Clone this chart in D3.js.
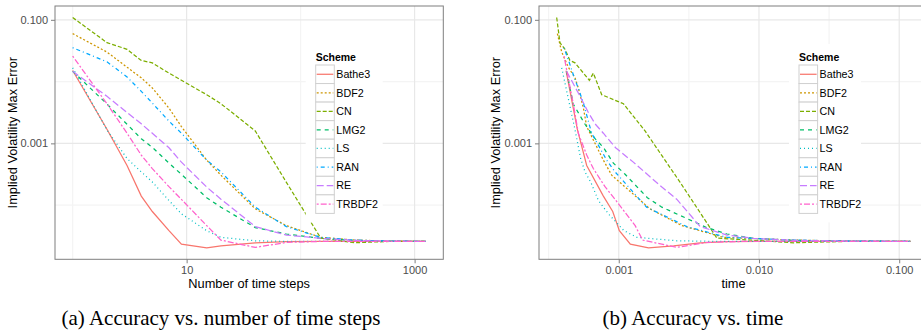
<!DOCTYPE html>
<html><head><meta charset="utf-8">
<script src="https://cdn.jsdelivr.net/npm/d3@7"></script>
<style>body{margin:0;background:#fff} svg{display:block}</style>
</head><body>
<svg id="c" width="921" height="334"></svg>
<script>
// ---------------- data ----------------
const schemes = ["Bathe3","BDF2","CN","LMG2","LS","RAN","RE","TRBDF2"];
const colors  = ["#F8766D","#CD9600","#7CAE00","#00BE67","#00BFC4","#00A9FF","#C77CFF","#FF61CC"];
const dashes  = ["", "2,2", "4,2", "4,4", "1,3", "1,3,4,3", "7,3", "2,2,6,2"];

const steps = [1,2,3,4,5,7,9,15,20,40,75,150,300,600,1250];

const errBathe3 = [0.0151,0.00169,4.38e-4,1.40e-4,7.89e-5,3.86e-5,2.34e-5,2.04e-5,2.20e-5,2.46e-5,2.56e-5,2.59e-5,2.59e-5,2.59e-5,2.59e-5];
const errBDF2   = [0.0598,0.0301,0.0171,0.0115,0.00789,0.00372,0.00187,5.35e-4,3.05e-4,8.71e-5,4.66e-5,3.01e-5,2.72e-5,2.62e-5,2.59e-5];
const errCN     = [0.109,0.0427,0.0333,0.0220,0.0201,0.0137,0.0105,0.00614,0.00438,0.00159,2.34e-4,2.93e-5,2.46e-5,2.59e-5,2.59e-5];
const errLMG2   = [0.0147,0.00433,0.00204,0.00119,8.61e-4,4.78e-4,3.16e-4,1.32e-4,9.27e-5,4.33e-5,3.41e-5,2.90e-5,2.69e-5,2.62e-5,2.59e-5];
const errLS     = [0.0167,0.00165,5.69e-4,3.45e-4,2.37e-4,1.19e-4,7.23e-5,3.86e-5,3.01e-5,2.65e-5,2.59e-5,2.59e-5,2.59e-5,2.59e-5,2.59e-5];
const errRAN    = [0.0354,0.0209,0.0119,0.00695,0.00449,0.00229,0.00146,5.35e-4,3.45e-4,9.27e-5,4.49e-5,3.01e-5,2.72e-5,2.62e-5,2.59e-5];
const errRE     = [0.0147,0.00577,0.00316,0.00207,0.00146,8.49e-4,4.97e-4,1.96e-4,1.25e-4,4.49e-5,3.28e-5,2.90e-5,2.69e-5,2.62e-5,2.59e-5];
const errTRBDF2 = [0.0259,0.00438,0.00146,6.46e-4,3.91e-4,1.99e-4,1.24e-4,4.66e-5,2.72e-5,2.07e-5,2.49e-5,2.59e-5,2.59e-5,2.59e-5,2.59e-5];

const timeBathe3 = [4.21e-4,5.07e-4,5.91e-4,7.77e-4,9.06e-4,1.01e-3,1.21e-3,1.63e-3,2.46e-3,3.81e-3,5.91e-3,1.02e-2,1.77e-2,4.25e-2,0.12];
const timeBDF2   = [3.65e-4,3.92e-4,4.37e-4,4.88e-4,5.15e-4,5.60e-4,5.91e-4,7.77e-4,8.91e-4,1.67e-3,2.82e-3,5.59e-3,1.77e-2,4.25e-2,0.12];
const timeCN     = [3.61e-4,3.81e-4,4.14e-4,4.49e-4,4.88e-4,6.59e-4,6.17e-4,7.56e-4,1.08e-3,1.54e-3,2.74e-3,5.01e-3,1.77e-2,4.25e-2,0.12];
const timeLMG2   = [4.25e-4,4.74e-4,5.75e-4,6.78e-4,7.77e-4,9.16e-4,1.11e-3,1.60e-3,2.03e-3,4.25e-3,5.91e-3,9.16e-3,1.77e-2,4.25e-2,0.12];
const timeLS     = [3.92e-4,4.88e-4,5.35e-4,5.75e-4,6.31e-4,7.16e-4,8.44e-4,1.09e-3,1.35e-3,2.59e-3,4.74e-3,9.16e-3,1.77e-2,4.25e-2,0.12];
const timeRAN    = [4.07e-4,4.42e-4,4.80e-4,5.24e-4,5.60e-4,6.07e-4,6.41e-4,8.21e-4,9.42e-4,1.58e-3,3.06e-3,5.91e-3,1.77e-2,4.25e-2,0.12];
const timeRE     = [4.25e-4,5.30e-4,6.07e-4,6.78e-4,7.77e-4,9.50e-4,1.27e-3,2.03e-3,2.59e-3,3.81e-3,5.91e-3,9.16e-3,1.77e-2,4.25e-2,0.12];
const timeTRBDF2 = [4.07e-4,4.74e-4,5.15e-4,5.91e-4,6.59e-4,7.98e-4,9.42e-4,1.31e-3,1.48e-3,2.59e-3,4.25e-3,7.77e-3,1.77e-2,4.25e-2,0.12];

const yTicks  = [0.1, 0.001];
const yMinor  = [0.01, 0.0001];
const xTicksA = [10, 1000];
const xMinorA = [1, 100];
const xTicksB = [0.001, 0.01, 0.1];
const xMinorB = [Math.pow(10,-3.5), Math.pow(10,-2.5), Math.pow(10,-1.5)];

const legendTitle = "Scheme";
const yTitle = "Implied Volatility Max Error";
const xTitleA = "Number of time steps";
const xTitleB = "time";
const captionA = "(a) Accuracy vs. number of time steps";
const captionB = "(b) Accuracy vs. time";

const errs  = [errBathe3,errBDF2,errCN,errLMG2,errLS,errRAN,errRE,errTRBDF2];
const times = [timeBathe3,timeBDF2,timeCN,timeLMG2,timeLS,timeRAN,timeRE,timeTRBDF2];

// ---------------- drawing ----------------
const svg = d3.select("#c");
const sans = "'Liberation Sans', Arial, Helvetica, sans-serif";

function logExpand(vals){
  const e = d3.extent(vals).map(Math.log10);
  const pad = (e[1]-e[0])*0.05;
  return [Math.pow(10,e[0]-pad), Math.pow(10,e[1]+pad)];
}
const allErr = errs.flat();
const yDom = logExpand(allErr);

function panel(opt){
  const {left,right,top,bottom} = opt;
  const g = svg.append("g");
  const x = d3.scaleLog().domain(logExpand(opt.xvals)).range([left,right]);
  const y = d3.scaleLog().domain(yDom).range([bottom,top]);
  const clipId = "clip"+opt.id;
  svg.append("clipPath").attr("id",clipId).append("rect")
    .attr("x",left).attr("y",top).attr("width",right-left).attr("height",bottom-top);
  const grid = g.append("g").attr("clip-path",`url(#${clipId})`);
  grid.selectAll(".mx").data(opt.xMinor).join("line")
    .attr("x1",d=>x(d)).attr("x2",d=>x(d)).attr("y1",top).attr("y2",bottom)
    .attr("stroke","#f4f4f4").attr("stroke-width",1.2);
  grid.selectAll(".my").data(yMinor).join("line")
    .attr("y1",d=>y(d)).attr("y2",d=>y(d)).attr("x1",left).attr("x2",right)
    .attr("stroke","#f4f4f4").attr("stroke-width",1.2);
  grid.selectAll(".Mx").data(opt.xTicks).join("line")
    .attr("x1",d=>x(d)).attr("x2",d=>x(d)).attr("y1",top).attr("y2",bottom)
    .attr("stroke","#e8e8e8").attr("stroke-width",1.2);
  grid.selectAll(".My").data(yTicks).join("line")
    .attr("y1",d=>y(d)).attr("y2",d=>y(d)).attr("x1",left).attr("x2",right)
    .attr("stroke","#e8e8e8").attr("stroke-width",1.2);

  const lines = g.append("g").attr("clip-path",`url(#${clipId})`);
  schemes.forEach((s,i)=>{
    let pts = opt.xs(i).map((xv,k)=>[xv, errs[i][k]]);
    pts.sort((a,b)=>a[0]-b[0]);
    lines.append("path").datum(pts)
      .attr("d", d3.line().x(d=>x(d[0])).y(d=>y(d[1])))
      .attr("fill","none").attr("stroke",colors[i]).attr("stroke-width",1.25)
      .attr("stroke-dasharray",dashes[i] || null);
  });

  g.append("rect").attr("x",left).attr("y",top).attr("width",right-left).attr("height",bottom-top)
    .attr("fill","none").attr("stroke","#7f7f7f").attr("stroke-width",1);

  const ax = g.append("g").attr("transform",`translate(0,${bottom})`)
    .call(d3.axisBottom(x).tickValues(opt.xTicks).tickFormat(opt.xFmt).tickSizeOuter(0).tickSize(4).tickPadding(3));
  const ay = g.append("g").attr("transform",`translate(${left},0)`)
    .call(d3.axisLeft(y).tickValues(yTicks).tickFormat(d3.format(".3f")).tickSizeOuter(0).tickSize(4).tickPadding(3));
  [ax,ay].forEach(a=>{
    a.select(".domain").remove();
    a.selectAll(".tick line").attr("stroke","#7f7f7f");
    a.selectAll(".tick text").attr("fill","#4d4d4d").style("font-family",sans).style("font-size","11px");
  });

  g.append("text").attr("x",(left+right)/2).attr("y",bottom+29)
    .attr("text-anchor","middle").style("font-family",sans).style("font-size","12.8px").attr("fill","#000")
    .text(opt.xTitle);
  g.append("text").attr("transform",`translate(${opt.yTitleX},${(top+bottom)/2}) rotate(-90)`)
    .attr("text-anchor","middle").attr("dy","0.35em").style("font-family",sans).style("font-size","12.8px").attr("fill","#000")
    .text(yTitle);

  const lg = g.append("g");
  const lx = opt.legX, ly = 65, kh = 18.55, kw = 18.6;
  lg.append("rect").attr("x",lx-10).attr("y",ly-21).attr("width",opt.legW).attr("height",kh*8+30).attr("fill","#fff");
  lg.append("text").attr("x",lx).attr("y",ly-4).style("font-family",sans).style("font-size","10.5px")
    .style("font-weight","bold").attr("fill","#000").text(legendTitle);
  schemes.forEach((s,i)=>{
    const yy = ly + i*kh;
    lg.append("rect").attr("x",lx).attr("y",yy).attr("width",kw).attr("height",kh)
      .attr("fill","#fff").attr("stroke","#d0d0d0").attr("stroke-width",1);
    lg.append("line").attr("x1",lx+1).attr("x2",lx+kw-1).attr("y1",yy+kh/2).attr("y2",yy+kh/2)
      .attr("stroke",colors[i]).attr("stroke-width",1.25).attr("stroke-dasharray",dashes[i]||null);
    lg.append("text").attr("x",lx+kw+2).attr("y",yy+kh/2).attr("dy","0.36em")
      .style("font-family",sans).style("font-size","10.7px").attr("fill","#000").text(s);
  });
}

panel({id:"a",left:55,right:443.3,top:6,bottom:259.3,
  xvals:steps, xs:i=>steps, xTicks:xTicksA, xMinor:xMinorA, xFmt:d=>String(d),
  xTitle:xTitleA, yTitleX:12.7, legX:315.7, legW:77});
panel({id:"b",left:539,right:928,top:6,bottom:259.3,
  xvals:times.flat(), xs:i=>times[i], xTicks:xTicksB, xMinor:xMinorB, xFmt:d3.format(".3f"),
  xTitle:xTitleB, yTitleX:496, legX:799, legW:72});

const serif = "'Liberation Serif', 'DejaVu Serif', serif";
svg.append("text").attr("x",221).attr("y",325).attr("text-anchor","middle").style("font-family",serif).style("font-size","21px").attr("fill","#000").text(captionA);
svg.append("text").attr("x",693).attr("y",325).attr("text-anchor","middle").style("font-family",serif).style("font-size","21px").attr("fill","#000").text(captionB);
</script>
</body></html>
